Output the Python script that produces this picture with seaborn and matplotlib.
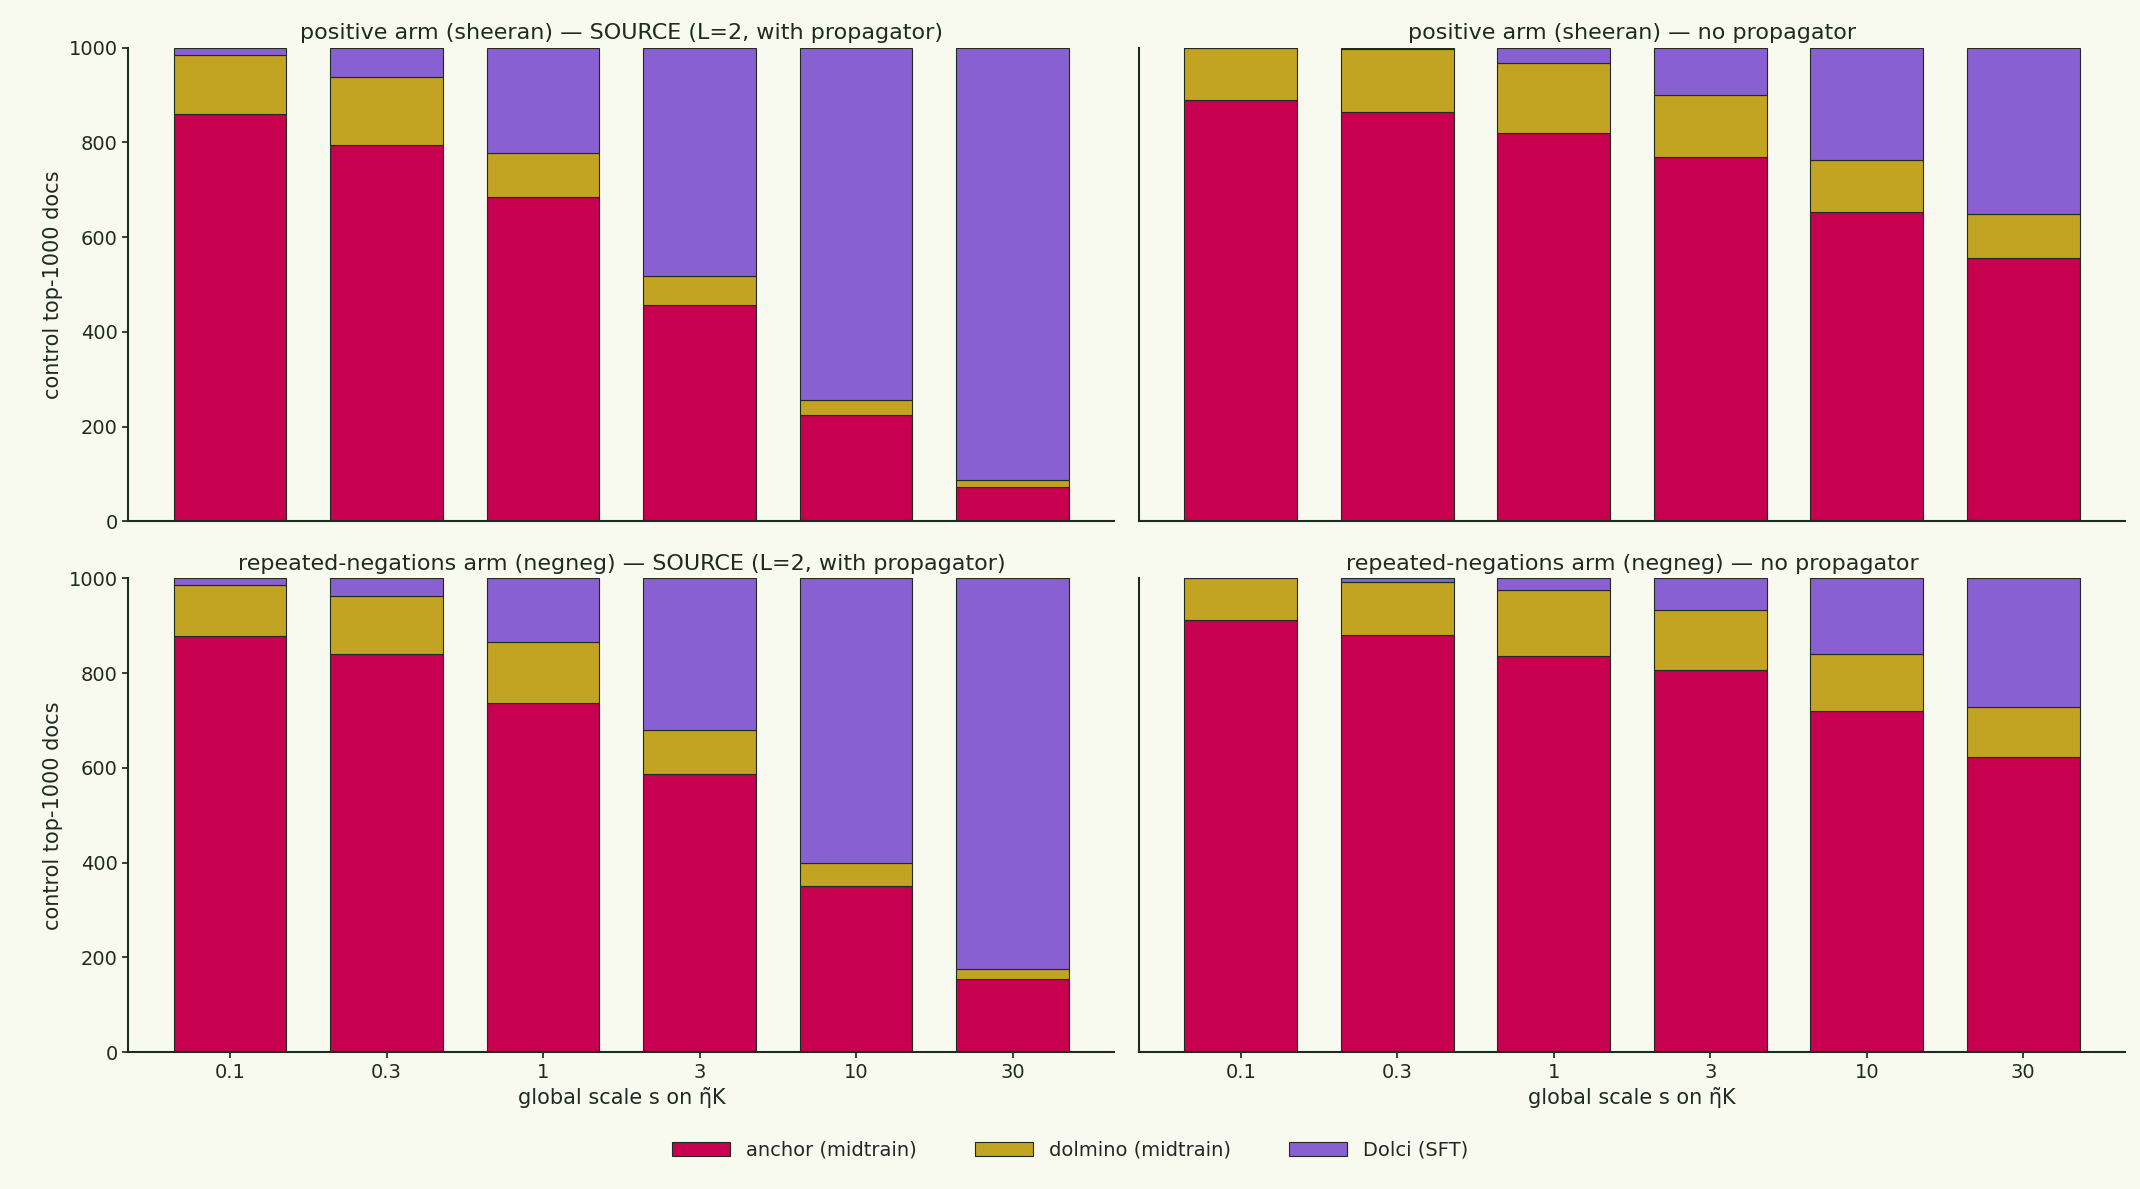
import matplotlib
matplotlib.use("Agg")
import matplotlib.pyplot as plt
import seaborn as sns
import numpy as np
from matplotlib.patches import Patch

scales = ["0.1", "0.3", "1", "3", "10", "30"]

# anchor counts and anchor+dolmino cumulative tops, per panel
pos_src_anchor = [860, 795, 685, 457, 225, 72]
pos_src_dolmino_top = [985, 937, 777, 518, 257, 87]
pos_noprop_anchor = [890, 865, 820, 770, 653, 557]
pos_noprop_dolmino_top = [1000, 997, 968, 900, 763, 648]
neg_src_anchor = [878, 840, 738, 588, 350, 155]
neg_src_dolmino_top = [985, 963, 866, 680, 400, 175]
neg_noprop_anchor = [913, 880, 836, 806, 721, 622]
neg_noprop_dolmino_top = [1000, 993, 975, 933, 840, 728]
total = 1000

titles = [
    "positive arm (sheeran) — SOURCE (L=2, with propagator)",
    "positive arm (sheeran) — no propagator",
    "repeated-negations arm (negneg) — SOURCE (L=2, with propagator)",
    "repeated-negations arm (negneg) — no propagator",
]
panels = [
    (pos_src_anchor, pos_src_dolmino_top),
    (pos_noprop_anchor, pos_noprop_dolmino_top),
    (neg_src_anchor, neg_src_dolmino_top),
    (neg_noprop_anchor, neg_noprop_dolmino_top),
]

c_anchor = "#c70050"
c_dolmino = "#c2a322"
c_dolci = "#8860d2"
edge = "#1e2b1e"
bg = "#f8faef"

sns.set_theme(style="white")
plt.rcParams["font.family"] = ["DejaVu Sans"]
plt.rcParams["font.size"] = 13

fig, axes = plt.subplots(2, 2, figsize=(21.4, 11.89), dpi=100, sharey=True)
fig.patch.set_facecolor(bg)

for ax, title, (anc, dtop) in zip(axes.flat, titles, panels):
    ax.set_facecolor(bg)
    anc = np.array(anc)
    dtop = np.array(dtop)
    dol = dtop - anc
    dolci = total - dtop
    kw = dict(edgecolor=edge, linewidth=0.8, width=0.72, ax=ax)
    sns.barplot(x=scales, y=anc, color=c_anchor, saturation=1, **kw)
    sns.barplot(x=scales, y=dol, bottom=anc, color=c_dolmino, saturation=1, **kw)
    sns.barplot(x=scales, y=dolci, bottom=dtop, color=c_dolci, saturation=1, **kw)
    ax.set_title(title, fontsize=16, color=edge)
    ax.set_ylim(0, 1000)
    ax.set_yticks([0, 200, 400, 600, 800, 1000])
    ax.set_xlim(-0.65, 5.65)
    for s in ["top", "right"]:
        ax.spines[s].set_visible(False)
    for s in ["left", "bottom"]:
        ax.spines[s].set_color(edge)
        ax.spines[s].set_linewidth(1.5)
    ax.tick_params(axis="both", labelsize=14, colors=edge, left=True, bottom=True, length=4)
    ax.set_ylabel("")
    ax.set_xlabel("")

for ax in axes[0]:
    ax.tick_params(axis="x", labelbottom=False, bottom=False)
for ax in axes[:, 1]:
    ax.tick_params(axis="y", labelleft=False, left=False)
for ax in axes[:, 0]:
    ax.set_ylabel("control top-1000 docs", fontsize=15, color=edge)
for ax in axes[1]:
    ax.set_xlabel("global scale s on η̃K", fontsize=15, color=edge)

handles = [Patch(facecolor=c, edgecolor=edge, linewidth=0.8, label=l)
           for c, l in [(c_anchor, "anchor (midtrain)"), (c_dolmino, "dolmino (midtrain)"), (c_dolci, "Dolci (SFT)")]]
fig.legend(handles=handles, loc="lower center", ncol=3, frameon=False, fontsize=14,
           bbox_to_anchor=(0.5, 0.01), handlelength=3, columnspacing=3)

fig.subplots_adjust(left=0.06, right=0.993, top=0.96, bottom=0.115, wspace=0.025, hspace=0.12)
fig.savefig("out.png", dpi=100, facecolor=bg)
